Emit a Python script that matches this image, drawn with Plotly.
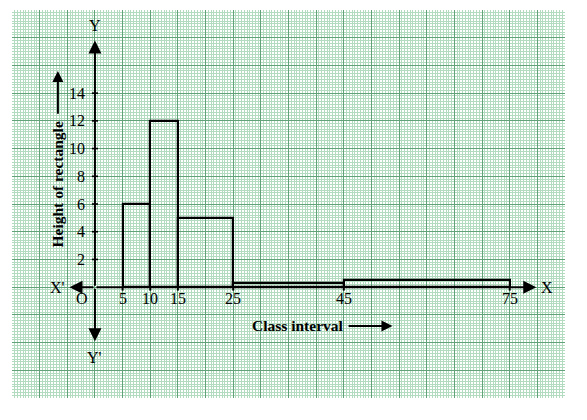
import plotly.graph_objects as go

# ---- data ----
class_edges = [5, 10, 15, 25, 45, 75]
heights = [6, 12, 5, 0.3, 0.55]
x_tick_vals = [5, 10, 15, 25, 45, 75]
x_tick_text = ["5", "10", "15", "25", "45", "75"]
y_tick_vals = [2, 4, 6, 8, 10, 12, 14]
y_tick_text = ["2", "4", "6", "8", "10", "12", "14"]

centers = [(a + b) / 2 for a, b in zip(class_edges[:-1], class_edges[1:])]
widths = [b - a for a, b in zip(class_edges[:-1], class_edges[1:])]

FONT = "Liberation Serif"
MAJOR = "#62a279"
MINOR = "#b3dbc0"

fig = go.Figure()

fig.add_trace(go.Bar(
    x=centers, y=heights, width=widths,
    marker=dict(color="rgba(0,0,0,0)", line=dict(color="black", width=2.2)),
    hoverinfo="skip", showlegend=False,
))

# y tick marks
tx, ty = [], []
for v in y_tick_vals:
    tx += [-0.55, 0.55, None]
    ty += [v, v, None]
fig.add_trace(go.Scatter(x=tx, y=ty, mode="lines", line=dict(color="black", width=1.6),
                         hoverinfo="skip", showlegend=False))
# x tick marks (bar edges extending below axis)
tx, ty = [], []
for v in x_tick_vals:
    tx += [v, v, None]
    ty += [0, -0.25, None]
fig.add_trace(go.Scatter(x=tx, y=ty, mode="lines", line=dict(color="black", width=2),
                         hoverinfo="skip", showlegend=False))

ann = []
# axes arrows
for (hx, hy) in [(0, 17.8), (0, -3.9), (79.8, 0), (-4.6, 0)]:
    ann.append(dict(x=hx, y=hy, ax=0, ay=0, xref="x", yref="y", axref="x", ayref="y",
                    text="", showarrow=True, arrowhead=2, arrowsize=1.3, arrowwidth=2,
                    arrowcolor="black"))
# labels on axes ends
tfont = dict(family=FONT, size=16, color="black")
ann += [
    dict(x=0, y=18.9, text="Y", showarrow=False, font=tfont),
    dict(x=0, y=-5.1, text="Y'", showarrow=False, font=tfont),
    dict(x=81.8, y=0, text="X", showarrow=False, font=tfont),
    dict(x=-6.8, y=0, text="X'", showarrow=False, font=tfont),
    dict(x=-2.3, y=-0.8, text="O", showarrow=False, font=tfont),
]
for v, t in zip(x_tick_vals, x_tick_text):
    ann.append(dict(x=v, y=-0.8, text=t, showarrow=False, font=tfont))
for v, t in zip(y_tick_vals, y_tick_text):
    ann.append(dict(x=-1.5, y=v, text=t, showarrow=False, xanchor="right", font=tfont))

bfont = dict(family=FONT, size=15.5, color="black")
ann.append(dict(x=-6.7, y=7.4, text="<b>Height of rectangle</b>", textangle=-90,
                showarrow=False, font=bfont))
ann.append(dict(x=-6.7, y=15.6, ax=-6.7, ay=12.4, xref="x", yref="y", axref="x", ayref="y",
                text="", showarrow=True, arrowhead=2, arrowsize=1.1, arrowwidth=2,
                arrowcolor="black"))
ann.append(dict(x=36.7, y=-2.8, text="<b>Class interval</b>", showarrow=False, font=bfont))
ann.append(dict(x=53.8, y=-2.8, ax=45.6, ay=-2.8, xref="x", yref="y", axref="x", ayref="y",
                text="", showarrow=True, arrowhead=2, arrowsize=1.1, arrowwidth=2,
                arrowcolor="black"))

fig.update_layout(
    width=579, height=412,
    margin=dict(l=4, r=22, t=2, b=22),
    paper_bgcolor="white", plot_bgcolor="white",
    annotations=ann,
    xaxis=dict(range=[-15, 85], tick0=0, dtick=5, showgrid=True, gridcolor=MAJOR, gridwidth=1,
               minor=dict(tick0=0, dtick=0.5, showgrid=True, gridcolor=MINOR, gridwidth=1),
               showticklabels=False, zeroline=False, showline=False, ticks=""),
    yaxis=dict(range=[-8, 20], tick0=0, dtick=2, showgrid=True, gridcolor=MAJOR, gridwidth=1,
               minor=dict(tick0=0, dtick=0.2, showgrid=True, gridcolor=MINOR, gridwidth=1),
               showticklabels=False, zeroline=False, showline=False, ticks=""),
    bargap=0,
)

fig.write_html("out.html")
